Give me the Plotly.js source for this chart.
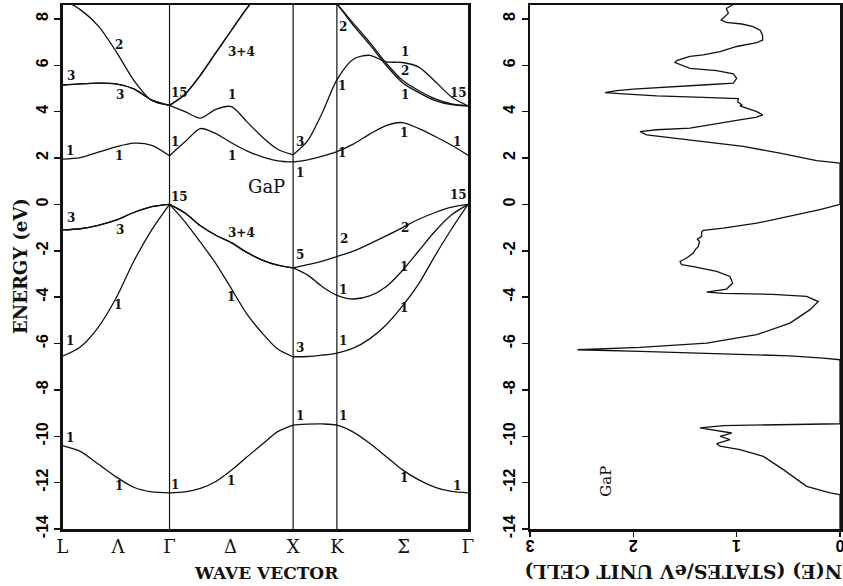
<!DOCTYPE html>
<html>
<head>
<meta charset="utf-8">
<script src="https://cdn.plot.ly/plotly-3.0.1.min.js"></script>
<style>html,body{margin:0;padding:0;background:#fff;}</style>
</head>
<body>
<div id="chart" style="width:843px;height:586px"></div>
<script>
// ---- wave-vector grid (L-Gamma, Gamma-X, X-K, K-Gamma) ----
const kGrid = [0, 0.144, 0.289, 0.433, 0.577, 0.722, 0.866,
               0.991, 1.116, 1.241, 1.366, 1.491, 1.616, 1.741, 1.866,
               1.984, 2.102, 2.220,
               2.353, 2.485, 2.618, 2.751, 2.883, 3.016, 3.149, 3.281];
const symPoints = [0.866, 1.866, 2.220];
const kTickPos = [0, 0.45, 0.866, 1.36, 1.866, 2.220, 2.76, 3.281];
const kTickText = ['L', 'Λ', 'Γ', 'Δ', 'X', 'K', 'Σ', 'Γ'];

// ---- band energies (eV) on kGrid ----
const band1 = [-10.4,-10.65,-11.2,-11.75,-12.2,-12.4,-12.44, -12.4,-12.25,-11.95,-11.47,-10.9,-10.35,-9.8,-9.52, -9.48,-9.47,-9.52, -9.82,-10.3,-10.87,-11.45,-11.88,-12.2,-12.38,-12.44];
const band2 = [-6.55,-6.15,-5.3,-4.05,-2.45,-1.1,0, -0.75,-1.63,-2.55,-3.63,-4.72,-5.55,-6.24,-6.57, -6.56,-6.5,-6.41, -6.2,-5.8,-5.2,-4.38,-3.42,-2.2,-1.05,0];
const band3 = [-1.1,-1.05,-0.9,-0.68,-0.35,-0.1,0, -0.37,-0.92,-1.33,-1.65,-2.07,-2.4,-2.62,-2.74, -2.6,-2.45,-2.25, -2.02,-1.7,-1.36,-1.0,-0.64,-0.35,-0.12,0];
const band4 = [-1.1,-1.05,-0.9,-0.68,-0.35,-0.1,0, -0.37,-0.92,-1.33,-1.65,-2.07,-2.4,-2.62,-2.74, -3.05,-3.55,-3.92, -4.08,-3.95,-3.55,-2.85,-2.0,-1.15,-0.45,0];
const band5 = [1.95,2.02,2.25,2.48,2.64,2.55,2.1, 2.7,3.27,3.05,2.66,2.31,2.05,1.88,1.83, 1.92,2.08,2.28, 2.6,3.03,3.4,3.53,3.27,2.93,2.55,2.12];
const band6 = [5.15,5.2,5.23,5.2,4.98,4.5,4.27, 4.0,3.72,4.1,4.22,3.57,2.91,2.38,2.14, 2.75,3.95,5.37, 6.26,6.43,6.15,6.12,5.92,5.3,4.63,4.25];
const band7 = [5.15,5.2,5.23,5.2,4.98,4.5,4.27, 4.75,5.57,6.55,7.5,8.45,9.3,10.0,10.4, 9.9,9.3,8.65, 7.81,7.0,6.1,5.35,4.9,4.55,4.33,4.25];
const band8 = [8.85,8.4,7.7,6.6,5.35,4.48,4.27, 4.75,5.57,6.55,7.5,8.45,9.3,10.0,10.4, 9.9,9.3,8.65, 7.72,6.9,6.0,5.25,4.82,4.48,4.3,4.25];

// ---- symmetry labels on the bands ----
const labelK = [0.461,0.068,0.467,0.057,0.461,0.068,0.467,0.453,0.062,0.062,0.461,
                0.944,0.912,0.944,0.912,
                1.446,1.371,1.371,1.446,1.365,1.365,
                1.921,1.921,1.921,1.921,1.921,
                2.271,2.263,2.263,2.279,2.271,2.271,2.271,
                2.770,2.775,2.770,2.765,2.775,2.765,2.765,2.765,
                3.207,3.196,3.207,3.196];
const labelE = [6.88,5.54,4.72,2.32,2.09,-0.59,-1.09,-4.33,-5.91,-10.07,-12.16,
                4.82,2.71,0.34,-12.09,
                6.59,4.72,2.07,-1.24,-4.0,-11.94,
                2.71,1.35,-2.17,-6.19,-9.14,
                7.67,5.11,2.21,-1.5,-3.68,-5.91,-9.14,
                6.59,5.77,4.72,3.1,-1.02,-2.68,-4.47,-11.8,
                4.82,2.67,0.41,-12.13];
const labelText = ['2','3','3','1','1','3','3','1','1','1','1',
                   '15','1','15','1',
                   '3+4','1','1','3+4','1','1',
                   '3','1','5','3','1',
                   '2','1','1','2','1','1','1',
                   '1','2','1','1','2','1','1','1',
                   '15','1','15','1'];

// ---- density of states N(E) ----
const dosE = [8.6,8.45,8.25,7.95,7.85,7.78,7.67,7.5,7.3,7.09,6.98,6.81,6.59,6.45,6.38,6.2,6.12,5.95,5.87,5.77,5.63,5.44,5.23,5.16,5.06,4.97,4.91,4.82,4.77,4.68,4.62,4.56,4.42,4.3,4.25,4.15,4.0,3.86,3.76,3.62,3.47,3.36,3.29,3.22,3.14,3.0,2.86,2.71,2.5,2.21,1.89,1.78,
              0,-0.23,-0.52,-0.81,-1.02,-1.12,-1.2,-1.38,-1.5,-1.6,-1.81,-1.95,-2.1,-2.31,-2.46,-2.6,-2.68,-2.89,-3.11,-3.39,-3.65,-3.78,-3.84,-3.88,-3.97,-4.19,-4.54,-5.12,-5.62,-5.98,-6.17,-6.27,-6.34,-6.44,-6.53,-6.63,-6.7,
              -9.46,-9.5,-9.54,-9.64,-9.79,-9.86,-10.0,-10.15,-10.32,-10.43,-10.58,-10.87,-11.44,-12.16,-12.44,-12.52,-14];
const dosN = [1.04,1.1,1.08,1.15,1.1,0.95,0.84,0.77,0.75,0.748,0.806,1.0,1.161,1.323,1.452,1.58,1.597,1.5,1.452,1.194,1.032,1.0,1.032,1.29,1.71,2.0,2.161,2.274,2.097,1.774,1.323,0.984,0.99,0.95,0.968,0.903,0.806,0.748,0.806,1.0,1.194,1.323,1.452,1.774,1.935,1.871,1.613,1.29,0.935,0.581,0.226,0,
              0,0.194,0.484,0.806,1.129,1.323,1.34,1.339,1.38,1.36,1.371,1.4,1.419,1.484,1.548,1.532,1.419,1.194,1.065,1.039,1.097,1.29,1.13,0.65,0.323,0.21,0.29,0.484,0.806,1.29,1.935,2.54,1.935,1.129,0.484,0.161,0,
              0,0.484,1.129,1.355,1.129,1.048,1.161,1.065,1.194,1.161,0.968,0.742,0.548,0.323,0.097,0,0];

// ---- axis ticks ----
const eTicks = [8,6,4,2,0,-2,-4,-6,-8,-10,-12,-14];
const eTickText = ['8','6','4','2','0','-2','-4','-6','-8','-10','-12','-14'];
const nTicks = [3,2,1,0];
const nTickText = ['3','2','1','0'];

const W = 843;
const bands = [band1, band2, band3, band4, band5, band6, band7, band8];
const segments = [[0, 6], [6, 14], [14, 25]];
const lineStyle = {color: '#111', width: 1.3, shape: 'spline', smoothing: 0.8};

const traces = [];
bands.forEach(b => {
  segments.forEach(([s, e]) => {
    traces.push({
      type: 'scatter', mode: 'lines', xaxis: 'x', yaxis: 'y',
      x: kGrid.slice(s, e + 1), y: b.slice(s, e + 1),
      line: lineStyle, hoverinfo: 'skip', showlegend: false
    });
  });
});
traces.push({
  type: 'scatter', mode: 'lines', xaxis: 'x2', yaxis: 'y2',
  x: dosN, y: dosE, line: {color: '#111', width: 1.3},
  hoverinfo: 'skip', showlegend: false
});

const labelFont = {family: 'DejaVu Serif', size: 12, color: '#111', weight: 'bold'};
const annotations = labelK.map((k, i) => ({
  x: k, y: labelE[i], xref: 'x', yref: 'y', text: labelText[i],
  showarrow: false, font: labelFont, xanchor: 'center', yanchor: 'middle'
}));
annotations.push({x: 1.654, y: 0.77, xref: 'x', yref: 'y', text: 'GaP', showarrow: false,
  xanchor: 'center', yanchor: 'middle',
  font: {family: 'DejaVu Serif', size: 18, color: '#111'}});
annotations.push({x: 2.26, y: -11.94, xref: 'x2', yref: 'y2', text: 'GaP', showarrow: false,
  xanchor: 'center', yanchor: 'middle',
  textangle: -90, font: {family: 'DejaVu Serif', size: 15, color: '#111'}});
annotations.push({x: 20 / W, y: (529 - 266) / 524, xref: 'paper', yref: 'paper', text: 'ENERGY (eV)',
  xanchor: 'center', yanchor: 'middle',
  showarrow: false, textangle: -90, font: {family: 'DejaVu Serif', size: 18, color: '#111', weight: 'bold'}});
annotations.push({x: 266 / W, y: (529 - 573) / 524, xref: 'paper', yref: 'paper', text: 'WAVE VECTOR',
  xanchor: 'center', yanchor: 'middle',
  showarrow: false, font: {family: 'DejaVu Serif', size: 17, color: '#111', weight: 'bold'}});
annotations.push({x: 683 / W, y: (529 - 572) / 524, xref: 'paper', yref: 'paper', text: 'N(E) (STATES/eV UNIT CELL)',
  xanchor: 'center', yanchor: 'middle',
  showarrow: false, textangle: 180, font: {family: 'DejaVu Serif', size: 19, color: '#111', weight: 'bold'}});

const shapes = symPoints.map(k => ({
  type: 'line', xref: 'x', yref: 'paper', x0: k, x1: k, y0: 0, y1: 1,
  line: {color: '#111', width: 1.2}
}));

const tickFont = {family: 'Liberation Sans Narrow, Liberation Sans, Arial, sans-serif', size: 16, color: '#000', weight: 'bold'};
const axBase = {showline: true, mirror: true, linewidth: 2.5, linecolor: '#111',
  showgrid: false, zeroline: false, fixedrange: true, ticklabeloverflow: 'allow'};

const layout = {
  width: 843, height: 586,
  margin: {l: 0, r: 0, t: 5, b: 57},
  paper_bgcolor: '#fff', plot_bgcolor: '#fff',
  showlegend: false,
  xaxis: Object.assign({}, axBase, {
    domain: [62.5 / W, 468 / W], range: [0, 3.281], anchor: 'y',
    tickmode: 'array', tickvals: kTickPos, ticktext: kTickText, ticks: '',
    tickfont: {family: 'DejaVu Serif', size: 18, color: '#111'}
  }),
  yaxis: Object.assign({}, axBase, {
    domain: [0, 1], range: [-14, 8.6], anchor: 'x',
    tickmode: 'array', tickvals: eTicks, ticktext: eTickText, tickangle: -90,
    ticks: 'outside', ticklen: 6, tickwidth: 1.5, tickcolor: '#111', tickfont: tickFont
  }),
  xaxis2: Object.assign({}, axBase, {
    domain: [530 / W, 840 / W], range: [3, 0], anchor: 'y2',
    tickmode: 'array', tickvals: nTicks, ticktext: nTickText, tickangle: 180,
    ticks: 'outside', ticklen: 5, tickwidth: 1.5, tickcolor: '#111', tickfont: tickFont
  }),
  yaxis2: Object.assign({}, axBase, {
    domain: [0, 1], range: [-14, 8.6], anchor: 'x2',
    tickmode: 'array', tickvals: eTicks, ticktext: eTickText, tickangle: -90,
    ticks: 'outside', ticklen: 6, tickwidth: 1.5, tickcolor: '#111', tickfont: tickFont
  }),
  annotations: annotations,
  shapes: shapes
};

Plotly.newPlot('chart', traces, layout, {displayModeBar: false, staticPlot: true});
</script>
</body>
</html>
